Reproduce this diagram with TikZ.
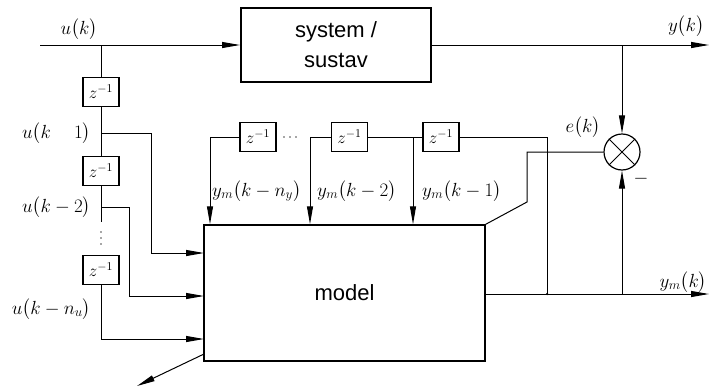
\RequirePackage{fix-cm}
\documentclass[tikz,border=0pt]{standalone}
\usepackage{amsmath}
\usepackage{fontspec}
\setsansfont{Liberation Sans}
\usetikzlibrary{arrows.meta,calc}
\newcommand{\lp}{\bigl(}
\newcommand{\rp}{\bigr)}
\begin{document}
\begin{tikzpicture}[x=1pt,y=-1pt,
  wire/.style={line width=1pt, draw=black},
  arr/.style={wire,-{Triangle[length=18pt,width=6pt]}},
  zbox/.style={draw, line width=1.4pt, minimum width=36pt, minimum height=29pt, inner sep=0pt, font=\fontsize{17}{19}\selectfont},
  blk/.style={draw, line width=1.4pt, inner sep=0pt, align=center, font=\sffamily\fontsize{22}{30}\selectfont},
  lbl/.style={font=\fontsize{19}{21}\selectfont, inner sep=0pt},
  jdot/.style={circle, fill=black, inner sep=0pt, minimum size=2.5pt},
  pdot/.style={circle, fill=black!70, inner sep=0pt, minimum size=1.6pt}
]
\useasboundingbox (0,0) rectangle (709,388);
% blocks
\node[blk, line width=2pt, minimum width=190pt, minimum height=74pt] (sys) at (336,45) {system /\\sustav};
\node[blk, minimum width=281pt, minimum height=136pt] (model) at (344.5,293) {model};
\node[draw, circle, line width=1.2pt, minimum size=36pt, inner sep=0pt] (cmp) at (622,152) {};
\draw[line width=1pt] (cmp.north west) -- (cmp.south east) (cmp.north east) -- (cmp.south west);
% delay boxes
\node[zbox] (z1) at (101,92) {$z^{-1}$};
\node[zbox] (z2) at (101,171) {$z^{-1}$};
\node[zbox] (z3) at (101,270) {$z^{-1}$};
\node[zbox] (zA) at (258,137) {$z^{-1}$};
\node[zbox] (zB) at (349.5,137) {$z^{-1}$};
\node[zbox] (zC) at (441,137) {$z^{-1}$};
% coordinates
\coordinate (uin) at (40,45);
\coordinate (bu) at (101,45);
\coordinate (j1) at (101,133);
\coordinate (j2) at (101,207);
\coordinate (c1) at (101,222);
\coordinate (in1) at (204,253);
\coordinate (in2) at (204,296);
\coordinate (in3) at (204,339);
\coordinate (mo) at (204,354);
\coordinate (mo2) at (137,386);
\coordinate (yend) at (709,45);
\coordinate (by) at (622,45);
\coordinate (mr) at (485,294);
\coordinate (ymend) at (709,294);
\coordinate (b1) at (547,294);
\coordinate (b2) at (622,294);
\coordinate (t1) at (413,137);
\coordinate (t2) at (310,137);
\coordinate (t3) at (210,137);
\coordinate (e1) at (527,152);
\coordinate (e2) at (527,202);
% input side
\draw[arr] (uin) -- (sys.west);
\draw[wire] (bu) -- (z1.north);
\draw[wire] (z1.south) -- (z2.north);
\draw[wire] (z2.south) -- (c1);
\foreach \yy in {232,238,244} \node[pdot] at (101,\yy) {};
\draw[arr] (j1) -- (151,133) |- (in1);
\draw[arr] (j2) -- (129,207) |- (in2);
\draw[arr] (z3.south) |- (in3);
\draw[arr] (mo) -- (mo2);
% output side
\draw[arr] (sys.east) -- (yend);
\draw[arr] (by) -- (cmp.north);
\draw[arr] (mr) -- (ymend);
\draw[arr] (b2) -- (cmp.south);
\draw[wire] (b1) |- (zC.east);
\draw[wire] (zC.west) -- (zB.east);
\draw[arr] (t1) -- (t1 |- model.north);
\draw[arr] (zB.west) -- (t2) -- (t2 |- model.north);
\foreach \xx in {284,290,296} \node[pdot] at (\xx,137) {};
\draw[arr] (zA.west) -- (t3) -- (t3 |- model.north);
\draw[wire] (cmp.west) -- (e1) -- (e2) -- (model.north east);
\node[jdot] at (b1) {};
% labels
\node[lbl, anchor=base] (lu) at (79,34) {$u\lp k\rp$};
\node[lbl, anchor=base east] (lu1) at (91,138) {$u\lp k\mathbin{\phantom{-}}1\rp$};
\node[lbl, anchor=base east] (lu2) at (91,212) {$u\lp k-2\rp$};
\node[lbl, anchor=base east] (lun) at (91,314) {$u\lp k-n_u\rp$};
\node[lbl, anchor=base] (ly) at (686,31) {$y\lp k\rp$};
\node[lbl, anchor=base east] (lym) at (707,287) {$y_m\lp k\rp$};
\node[lbl, anchor=base] (le) at (583,132) {$e\lp k\rp$};
\node[lbl, anchor=base] (lmin) at (641,183) {$-$};
\node[lbl, anchor=base west] (lA) at (212,196) {$y_m\lp k-n_y\rp$};
\node[lbl, anchor=base west] (lB) at (317,196) {$y_m\lp k-2\rp$};
\node[lbl, anchor=base west] (lC) at (422,196) {$y_m\lp k-1\rp$};
\end{tikzpicture}
\end{document}
